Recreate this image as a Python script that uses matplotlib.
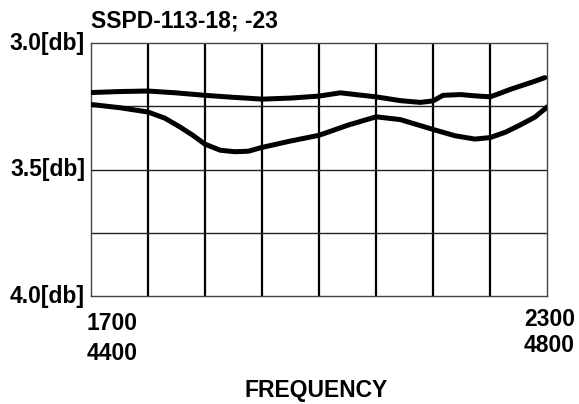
import numpy as np
import matplotlib
matplotlib.use("Agg")
from matplotlib import pyplot as plt

plt.rcParams['font.family'] = ['Liberation Sans', 'DejaVu Sans']
plt.rcParams['font.weight'] = 'bold'

# frequency (first band, MHz) and loss [db]
freq_lo = [1700, 1738, 1775, 1797, 1817, 1834, 1850, 1870, 1889, 1907, 1925, 1962,
           2000, 2038, 2075, 2107, 2150, 2179, 2205, 2225, 2245, 2264, 2284, 2300]
loss_lo = [3.242, 3.255, 3.272, 3.296, 3.331, 3.364, 3.399, 3.423, 3.429, 3.427, 3.412, 3.387,
           3.364, 3.324, 3.291, 3.302, 3.341, 3.366, 3.379, 3.373, 3.352, 3.324, 3.292, 3.252]

freq_hi = [1700, 1738, 1775, 1811, 1850, 1883, 1925, 1962, 2000, 2028, 2051, 2075,
           2107, 2133, 2150, 2163, 2186, 2205, 2225, 2238, 2251, 2268, 2284, 2297]
loss_hi = [3.195, 3.191, 3.189, 3.196, 3.206, 3.213, 3.221, 3.217, 3.209, 3.196, 3.204, 3.212,
           3.227, 3.234, 3.228, 3.206, 3.203, 3.208, 3.212, 3.198, 3.183, 3.166, 3.150, 3.136]

xgrid = np.arange(1700, 2301, 75)
ygrid = [3.0, 3.25, 3.5, 3.75, 4.0]
ylabels = {3.0: '3.0[db]', 3.5: '3.5[db]', 4.0: '4.0[db]'}
fs = 16.5

fig = plt.figure(figsize=(5.79, 4.04), dpi=100)
ax = fig.add_axes([0.157, 0.267, 0.788, 0.626])
ax.set_xlim(1700, 2300)
ax.set_ylim(4.0, 3.0)

for x in xgrid[1:-1]:
    ax.axvline(x, color='black', lw=1.6, zorder=1)
for y in ygrid[1:-1]:
    ax.axhline(y, color='#222222', lw=1.0, zorder=1)

ax.plot(freq_hi, loss_hi, color='black', lw=3.6, solid_capstyle='round',
        solid_joinstyle='round', zorder=3)
ax.plot(freq_lo, loss_lo, color='black', lw=3.6, solid_capstyle='round',
        solid_joinstyle='round', zorder=3)

for s in ax.spines.values():
    s.set_color('#444444')
    s.set_linewidth(1.0)
ax.set_xticks([])
ax.set_yticks([])

for y, lab in ylabels.items():
    ax.text(-0.013, y, lab, transform=ax.get_yaxis_transform(), ha='right', va='center',
            fontsize=fs, fontweight='bold')

fig.text(91 / 579, 1 - 21 / 404, 'SSPD-113-18; -23', ha='left', va='center',
         fontsize=fs, fontweight='bold')
fig.text(87 / 579, 1 - 324 / 404, '1700', ha='left', va='center', fontsize=fs, fontweight='bold')
fig.text(87 / 579, 1 - 353 / 404, '4400', ha='left', va='center', fontsize=fs, fontweight='bold')
fig.text(575 / 579, 1 - 320 / 404, '2300', ha='right', va='center', fontsize=fs, fontweight='bold')
fig.text(575 / 579, 1 - 346 / 404, '4800', ha='right', va='center', fontsize=fs, fontweight='bold')
fig.text(316 / 579, 1 - 390 / 404, 'FREQUENCY', ha='center', va='center', fontsize=fs, fontweight='bold')

fig.savefig('out.png', dpi=100)
